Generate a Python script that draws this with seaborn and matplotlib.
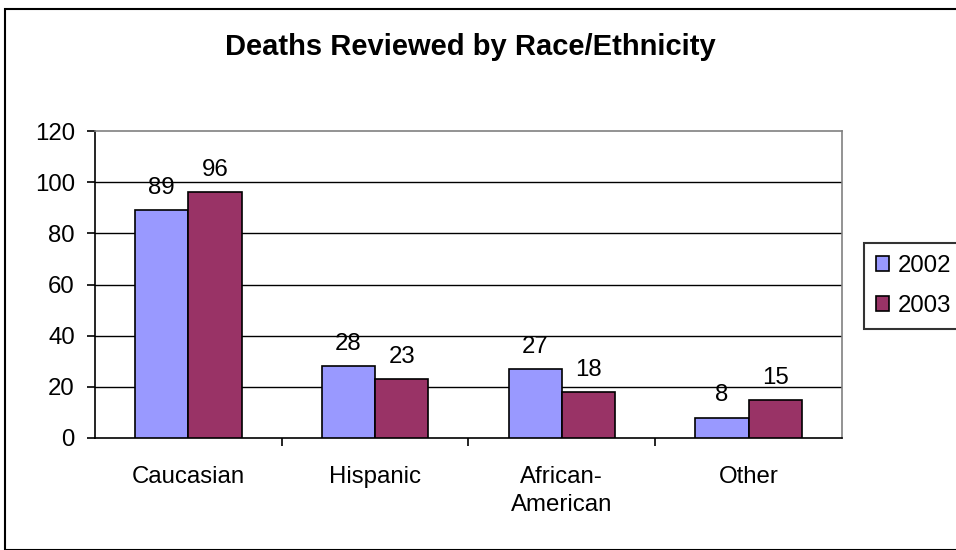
import matplotlib
matplotlib.use("Agg")
import matplotlib.pyplot as plt
import seaborn as sns
import pandas as pd
from matplotlib.patches import Rectangle, Patch

categories = ["Caucasian", "Hispanic", "African-\nAmerican", "Other"]
years = ["2002", "2003"]
values_2002 = [89, 28, 27, 8]
values_2003 = [96, 23, 18, 15]
colors = {"2002": "#9999FF", "2003": "#993366"}

df = pd.DataFrame({
    "category": categories * 2,
    "year": [years[0]] * 4 + [years[1]] * 4,
    "value": values_2002 + values_2003,
})

sns.set_style("white")
plt.rcParams["font.family"] = ["Liberation Sans", "DejaVu Sans"]
plt.rcParams["text.color"] = "black"
plt.rcParams["xtick.color"] = "black"
plt.rcParams["ytick.color"] = "black"
plt.rcParams["xtick.labelcolor"] = "black"
plt.rcParams["ytick.labelcolor"] = "black"

FS = 17.3

fig = plt.figure(figsize=(9.56, 5.5), dpi=100)
W, H = 956, 550
ax = fig.add_axes([95 / W, 1 - 438 / H, (842 - 95) / W, (438 - 131) / H])

sns.barplot(data=df, x="category", y="value", hue="year", palette=colors,
            saturation=1, width=0.57, edgecolor="black", linewidth=1.2,
            ax=ax, legend=False, zorder=3)

ax.set_ylim(0, 120)
ax.set_xlim(-0.5, 3.5)
ax.set_yticks(range(0, 121, 20))
ax.set_xticks([0, 1, 2, 3])
ax.set_xticklabels(categories, linespacing=1.3, color="black")
ax.set_xlabel("")
ax.set_ylabel("")
for y in range(20, 101, 20):
    ax.axhline(y, color="black", linewidth=1.0, zorder=1)

for s in ["top", "right"]:
    ax.spines[s].set_color("#808080")
    ax.spines[s].set_linewidth(1.2)
for s in ["left", "bottom"]:
    ax.spines[s].set_color("black")
    ax.spines[s].set_linewidth(1.2)

ax.tick_params(axis="y", which="major", left=True, length=5.5, width=1.2,
               direction="out", labelsize=FS, pad=9, colors="black")
ax.tick_params(axis="x", which="major", bottom=False, labelsize=FS, pad=17,
               colors="black")
ax.set_xticks([0.5, 1.5, 2.5], minor=True)
ax.tick_params(axis="x", which="minor", bottom=True, length=6, width=1.2,
               direction="out", colors="black")

for cont in ax.containers:
    for bar in cont:
        h = bar.get_height()
        ax.annotate(f"{int(round(h))}", (bar.get_x() + bar.get_width() / 2, h),
                    xytext=(0, 8), textcoords="offset points",
                    ha="center", va="bottom", fontsize=FS, color="black")

fig.text(470 / W, 1 - 47 / H, "Deaths Reviewed by Race/Ethnicity",
         ha="center", va="center", fontsize=21, fontweight="bold",
         color="black")

handles = [Patch(facecolor=colors[y], edgecolor="black", linewidth=1.2) for y in years]
leg = fig.legend(handles, years, loc="upper left",
                 bbox_to_anchor=(864 / W, 1 - 243 / H),
                 frameon=True, fancybox=False, fontsize=FS,
                 handlelength=0.55, handleheight=0.55, handletextpad=0.35,
                 borderpad=0.5, labelspacing=0.75, borderaxespad=0)
leg.get_frame().set_edgecolor("black")
leg.get_frame().set_linewidth(1.5)
for t in leg.get_texts():
    t.set_color("black")

fig.patches.append(Rectangle((5 / W, 0), 1 - 5 / W + 0.01, 1 - 9 / H,
                             transform=fig.transFigure, fill=False,
                             edgecolor="black", linewidth=1.5))

fig.savefig("out.png", dpi=100)
